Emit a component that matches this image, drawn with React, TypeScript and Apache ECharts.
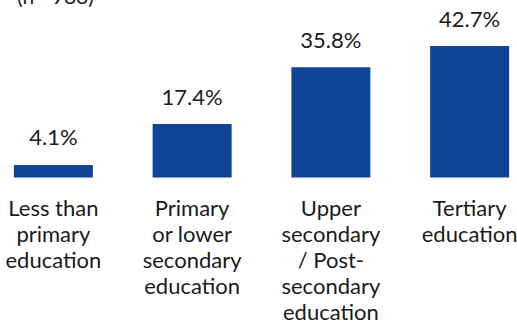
import React, { useEffect, useRef } from "react";
import * as echarts from "echarts";

const categories = [
  "Less than\nprimary\neducation",
  "Primary\nor lower\nsecondary\neducation",
  "Upper\nsecondary\n/ Post-\nsecondary\neducation",
  "Tertiary\neducation",
];
const values = [4.1, 17.4, 35.8, 42.7];
const noteText = "(n= 988)";

export default function App() {
  const ref = useRef<HTMLDivElement>(null);
  useEffect(() => {
    document.body.style.margin = "0";
    const chart = echarts.init(ref.current!, undefined, { renderer: "svg" });
    chart.setOption({
      animation: false,
      textStyle: { fontFamily: "Lato" },
      grid: {
        left: -16,
        right: -22,
        top: 23.6,
        bottom: 142,
        containLabel: false,
        outerBoundsMode: "none",
      },
      graphic: [
        {
          type: "text",
          left: 17,
          top: -15,
          style: { text: noteText, font: "21px Lato", fill: "#222" },
        },
      ],
      xAxis: {
        type: "category",
        data: categories,
        axisLine: { show: false },
        axisTick: { show: false },
        axisLabel: {
          interval: 0,
          color: "#1a1a1a",
          fontSize: 22,
          lineHeight: 26.2,
          margin: 12,
          fontFamily: "Lato",
        },
      },
      yAxis: {
        type: "value",
        min: -1.43,
        max: 50,
        show: false,
        splitLine: { show: false },
      },
      series: [
        {
          type: "bar",
          data: values,
          barWidth: 79,
          itemStyle: { color: "#0f4594" },
          label: {
            show: true,
            position: "top",
            distance: 17,
            formatter: (p: any) => p.value.toFixed(1) + "%",
            color: "#1a1a1a",
            fontSize: 22,
            fontFamily: "Lato",
          },
        },
      ],
    });
    return () => chart.dispose();
  }, []);
  return <div ref={ref} style={{ width: 517, height: 324 }} />;
}
